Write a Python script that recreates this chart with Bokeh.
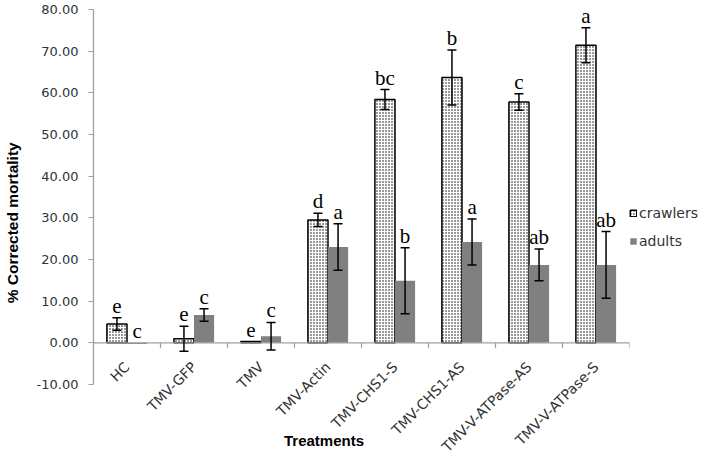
from math import pi
from bokeh.plotting import figure
from bokeh.models import (ColumnDataSource, Legend, LegendItem, Whisker, TeeHead,
                          NumeralTickFormatter, FixedTicker, Span)
from bokeh.transform import dodge
from bokeh.core.properties import value
from bokeh.embed import file_html
from bokeh.resources import INLINE

treatments = ["HC", "TMV-GFP", "TMV", "TMV-Actin", "TMV-CHS1-S", "TMV-CHS1-AS",
              "TMV-V-ATPase-AS", "TMV-V-ATPase-S"]
crawlers = [4.5, 1.0, 0.3, 29.5, 58.4, 63.7, 57.8, 71.4]
crawlers_err = [1.5, 3.0, 0.0, 1.6, 2.4, 6.6, 2.0, 4.2]
crawlers_letters = ["e", "e", "e", "d", "bc", "b", "c", "a"]
adults = [-0.3, 6.7, 1.6, 23.0, 14.9, 24.2, 18.7, 18.7]
adults_err = [0.0, 1.5, 3.3, 5.6, 7.9, 5.5, 3.8, 8.0]
adults_letters = ["c", "c", "c", "a", "b", "a", "ab", "ab"]
y_ticks = [-10, 0, 10, 20, 30, 40, 50, 60, 70, 80]

def make_src(vals, errs, letters):
    tops = [max(v + e, 0) for v, e in zip(vals, errs)]
    return ColumnDataSource(dict(treat=treatments, val=vals, ly=tops, lab=letters))

def err_src(vals, errs):
    keep = [i for i, e in enumerate(errs) if e > 0]
    return ColumnDataSource(dict(treat=[treatments[i] for i in keep],
                                 upper=[vals[i] + errs[i] for i in keep],
                                 lower=[vals[i] - errs[i] for i in keep]))

src_c = make_src(crawlers, crawlers_err, crawlers_letters)
src_a = make_src(adults, adults_err, adults_letters)

p = figure(x_range=treatments, y_range=(-10, 80), frame_width=536, frame_height=375,
           min_border_left=92, min_border_top=9, min_border_bottom=70, min_border_right=0,
           output_backend="svg", toolbar_location=None)
p.outline_line_color = None
p.xgrid.visible = False
p.ygrid.visible = False

ax_col = "#a0a0a0"
p.add_layout(Span(location=0, dimension="width", line_color=ax_col, line_width=1.3))

dx = 0.15
r_c = p.vbar(x=dodge("treat", -dx, range=p.x_range), top="val", bottom=0, width=0.3,
             source=src_c, fill_color="white", line_color="black", line_width=1.5,
             hatch_pattern="dot", hatch_scale=3, hatch_color="black", hatch_weight=1)
r_a = p.vbar(x=dodge("treat", dx, range=p.x_range), top="val", bottom=0, width=0.3,
             source=src_a, fill_color="#808080", line_color=None)

for s, off in ((err_src(crawlers, crawlers_err), -dx), (err_src(adults, adults_err), dx)):
    w = Whisker(base=dodge("treat", off, range=p.x_range), upper="upper", lower="lower",
                source=s, line_color="black", line_width=1.5, level="overlay",
                upper_head=TeeHead(size=9, line_color="black", line_width=1.5),
                lower_head=TeeHead(size=9, line_color="black", line_width=1.5))
    p.add_layout(w)

for s, off in ((src_c, -dx), (src_a, dx)):
    p.text(x=dodge("treat", off, range=p.x_range), y="ly", text="lab", source=s,
           text_font=value("Liberation Serif"), text_font_size="21px",
           text_align="center", text_baseline="alphabetic", y_offset=-12,
           text_color="black")

# boundary ticks on the category axis at y = 0
bsrc = ColumnDataSource(dict(treat=treatments))
p.segment(x0=dodge("treat", 0.5, range=p.x_range), x1=dodge("treat", 0.5, range=p.x_range),
          y0=0, y1=-1.3, source=bsrc, line_color=ax_col, line_width=1.2)

p.yaxis.ticker = FixedTicker(ticks=y_ticks)
p.yaxis.formatter = NumeralTickFormatter(format="0.00")
p.yaxis.axis_line_color = ax_col
p.yaxis.axis_line_width = 1.3
p.yaxis.major_tick_line_color = ax_col
p.yaxis.minor_tick_line_color = None
p.yaxis.major_tick_out = 5
p.yaxis.major_tick_in = 0
p.yaxis.major_label_text_font = "DejaVu Sans"
p.yaxis.major_label_text_font_size = "13px"
p.yaxis.major_label_text_color = "#333333"
p.yaxis.major_label_standoff = 10
# trailing no-break spaces shift the centred title down, as in the original
p.yaxis.axis_label = "% Corrected mortality" + "\u00a0" * 12
p.yaxis.axis_label_text_font = "Liberation Sans"
p.yaxis.axis_label_text_font_style = "bold"
p.yaxis.axis_label_text_font_size = "15.5px"
p.yaxis.axis_label_text_color = "black"
p.yaxis.axis_label_standoff = 13

p.xaxis.axis_line_color = None
p.xaxis.major_tick_line_color = None
p.xaxis.minor_tick_line_color = None
p.xaxis.major_tick_out = 0
p.xaxis.major_tick_in = 0
p.xaxis.major_label_orientation = pi / 4
p.xaxis.major_label_text_font = "DejaVu Sans"
p.xaxis.major_label_text_font_size = "14px"
p.xaxis.major_label_text_color = "#333333"
p.xaxis.major_label_standoff = -20
# trailing no-break spaces shift the centred title left, as in the original
p.xaxis.axis_label = "Treatments" + "\u00a0" * 18
p.xaxis.axis_label_text_font = "Liberation Sans"
p.xaxis.axis_label_text_font_style = "bold"
p.xaxis.axis_label_text_font_size = "15px"
p.xaxis.axis_label_text_color = "black"
p.xaxis.axis_label_standoff = -31

legend = Legend(items=[LegendItem(label="crawlers", renderers=[r_c]),
                       LegendItem(label="adults", renderers=[r_a])],
                location=(0, 135), border_line_color=None, background_fill_alpha=0,
                glyph_width=8, glyph_height=8, label_text_font="DejaVu Sans",
                label_text_font_size="14px", label_standoff=2, spacing=12,
                padding=0, margin=2, label_text_color="#333333")
p.add_layout(legend, "right")

open("out.html", "w").write(file_html(p, INLINE))
